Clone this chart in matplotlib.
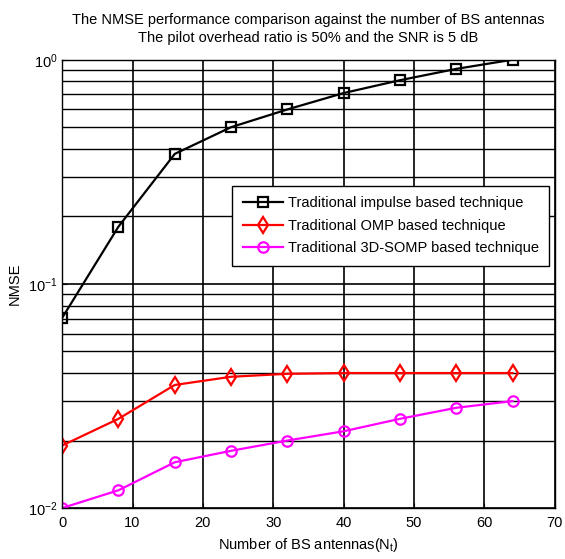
import matplotlib
matplotlib.use("Agg")
import matplotlib.pyplot as plt
from matplotlib.ticker import LogLocator, FixedLocator

plt.rcParams['font.family'] = ['Liberation Sans', 'DejaVu Sans']
plt.rcParams['mathtext.fontset'] = 'custom'
plt.rcParams['mathtext.rm'] = 'Liberation Sans'
plt.rcParams['mathtext.it'] = 'Liberation Sans'
plt.rcParams['mathtext.default'] = 'regular'

antennas = [0, 8, 16, 24, 32, 40, 48, 56, 64]
impulse = [0.0705, 0.18, 0.38, 0.50, 0.60, 0.71, 0.81, 0.91, 1.0]
omp = [0.019, 0.025, 0.0354, 0.0385, 0.0397, 0.040, 0.040, 0.040, 0.040]
somp = [0.010, 0.012, 0.016, 0.018, 0.020, 0.022, 0.025, 0.028, 0.030]
labels = ['Traditional impulse based technique',
          'Traditional OMP based technique',
          'Traditional 3D-SOMP based technique']
xticks = [0, 10, 20, 30, 40, 50, 60, 70]

fig = plt.figure(figsize=(5.65, 5.59), dpi=100)
ax = fig.add_axes([0.110, 0.0912, 0.872, 0.802])

ax.plot(antennas, impulse, color='black', lw=1.6, marker='s', ms=7.5,
        mfc='none', mew=1.6, label=labels[0])
ax.plot(antennas, omp, color='red', lw=1.6, marker='d', ms=8,
        mfc='none', mew=1.6, label=labels[1])
ax.plot(antennas, somp, color='magenta', lw=1.6, marker='o', ms=7.5,
        mfc='none', mew=1.6, label=labels[2])

ax.set_yscale('log')
ax.set_ylim(1e-2, 1e0)
ax.set_xlim(0, 70)
ax.xaxis.set_major_locator(FixedLocator(xticks))
ax.yaxis.set_major_locator(LogLocator(base=10))
ax.yaxis.set_minor_locator(LogLocator(base=10, subs=range(2, 10)))
ax.grid(True, which='major', color='black', lw=1.2)
ax.grid(True, which='minor', axis='y', color='black', lw=1.0)
ax.tick_params(which='both', direction='in', labelsize=10.5)
ax.tick_params(axis='x', pad=6)
ax.tick_params(which='minor', length=0)
for s in ax.spines.values():
    s.set_linewidth(1.0)

ax.set_xlabel('Number of BS antennas(N$_t$)', fontsize=10.5, labelpad=4)
ax.set_ylabel('NMSE', fontsize=10.5, labelpad=4)
ax.set_title('The NMSE performance comparison against the number of BS antennas\n'
             'The pilot overhead ratio is 50% and the SNR is 5 dB',
             fontsize=10.5, pad=13, linespacing=1.3)

leg = ax.legend(loc='upper right', bbox_to_anchor=(0.988, 0.719), fontsize=10.5,
                fancybox=False, framealpha=1, edgecolor='black',
                handlelength=2.8, borderpad=0.7, labelspacing=0.6,
                handletextpad=0.3, borderaxespad=0)
leg.get_frame().set_linewidth(1.0)

fig.savefig('out.png', dpi=100)
